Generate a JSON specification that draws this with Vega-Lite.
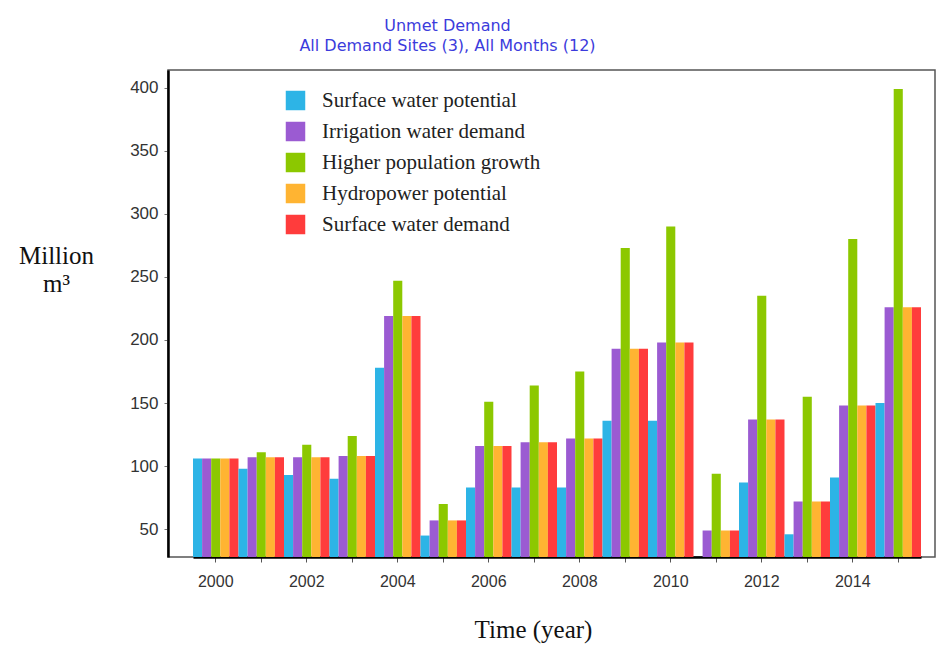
{
  "$schema": "https://vega.github.io/schema/vega-lite/v6.json",
  "autosize": {"type": "none"},
  "padding": {"left": 168, "top": 70, "right": 10, "bottom": 89},
  "width": 767,
  "height": 487,
  "background": "white",
  "title": {
    "text": "Unmet Demand",
    "subtitle": "All Demand Sites (3),  All Months (12)",
    "anchor": "middle",
    "dx": -104,
    "offset": 16,
    "font": "DejaVu Sans",
    "fontSize": 16,
    "fontWeight": "normal",
    "color": "#3b3bdc",
    "subtitleFont": "DejaVu Sans",
    "subtitleFontSize": 16,
    "subtitleColor": "#3b3bdc",
    "subtitlePadding": 4
  },
  "data": {
    "values": [
      {"year": 2000, "series": "Surface water potential", "value": 106},
      {"year": 2000, "series": "Irrigation water demand", "value": 106},
      {"year": 2000, "series": "Higher population growth", "value": 106},
      {"year": 2000, "series": "Hydropower potential", "value": 106},
      {"year": 2000, "series": "Surface water demand", "value": 106},
      {"year": 2001, "series": "Surface water potential", "value": 98},
      {"year": 2001, "series": "Irrigation water demand", "value": 107},
      {"year": 2001, "series": "Higher population growth", "value": 111},
      {"year": 2001, "series": "Hydropower potential", "value": 107},
      {"year": 2001, "series": "Surface water demand", "value": 107},
      {"year": 2002, "series": "Surface water potential", "value": 93},
      {"year": 2002, "series": "Irrigation water demand", "value": 107},
      {"year": 2002, "series": "Higher population growth", "value": 117},
      {"year": 2002, "series": "Hydropower potential", "value": 107},
      {"year": 2002, "series": "Surface water demand", "value": 107},
      {"year": 2003, "series": "Surface water potential", "value": 90},
      {"year": 2003, "series": "Irrigation water demand", "value": 108},
      {"year": 2003, "series": "Higher population growth", "value": 124},
      {"year": 2003, "series": "Hydropower potential", "value": 108},
      {"year": 2003, "series": "Surface water demand", "value": 108},
      {"year": 2004, "series": "Surface water potential", "value": 178},
      {"year": 2004, "series": "Irrigation water demand", "value": 219},
      {"year": 2004, "series": "Higher population growth", "value": 247},
      {"year": 2004, "series": "Hydropower potential", "value": 219},
      {"year": 2004, "series": "Surface water demand", "value": 219},
      {"year": 2005, "series": "Surface water potential", "value": 45},
      {"year": 2005, "series": "Irrigation water demand", "value": 57},
      {"year": 2005, "series": "Higher population growth", "value": 70},
      {"year": 2005, "series": "Hydropower potential", "value": 57},
      {"year": 2005, "series": "Surface water demand", "value": 57},
      {"year": 2006, "series": "Surface water potential", "value": 83},
      {"year": 2006, "series": "Irrigation water demand", "value": 116},
      {"year": 2006, "series": "Higher population growth", "value": 151},
      {"year": 2006, "series": "Hydropower potential", "value": 116},
      {"year": 2006, "series": "Surface water demand", "value": 116},
      {"year": 2007, "series": "Surface water potential", "value": 83},
      {"year": 2007, "series": "Irrigation water demand", "value": 119},
      {"year": 2007, "series": "Higher population growth", "value": 164},
      {"year": 2007, "series": "Hydropower potential", "value": 119},
      {"year": 2007, "series": "Surface water demand", "value": 119},
      {"year": 2008, "series": "Surface water potential", "value": 83},
      {"year": 2008, "series": "Irrigation water demand", "value": 122},
      {"year": 2008, "series": "Higher population growth", "value": 175},
      {"year": 2008, "series": "Hydropower potential", "value": 122},
      {"year": 2008, "series": "Surface water demand", "value": 122},
      {"year": 2009, "series": "Surface water potential", "value": 136},
      {"year": 2009, "series": "Irrigation water demand", "value": 193},
      {"year": 2009, "series": "Higher population growth", "value": 273},
      {"year": 2009, "series": "Hydropower potential", "value": 193},
      {"year": 2009, "series": "Surface water demand", "value": 193},
      {"year": 2010, "series": "Surface water potential", "value": 136},
      {"year": 2010, "series": "Irrigation water demand", "value": 198},
      {"year": 2010, "series": "Higher population growth", "value": 290},
      {"year": 2010, "series": "Hydropower potential", "value": 198},
      {"year": 2010, "series": "Surface water demand", "value": 198},
      {"year": 2011, "series": "Surface water potential", "value": 28},
      {"year": 2011, "series": "Irrigation water demand", "value": 49},
      {"year": 2011, "series": "Higher population growth", "value": 94},
      {"year": 2011, "series": "Hydropower potential", "value": 49},
      {"year": 2011, "series": "Surface water demand", "value": 49},
      {"year": 2012, "series": "Surface water potential", "value": 87},
      {"year": 2012, "series": "Irrigation water demand", "value": 137},
      {"year": 2012, "series": "Higher population growth", "value": 235},
      {"year": 2012, "series": "Hydropower potential", "value": 137},
      {"year": 2012, "series": "Surface water demand", "value": 137},
      {"year": 2013, "series": "Surface water potential", "value": 46},
      {"year": 2013, "series": "Irrigation water demand", "value": 72},
      {"year": 2013, "series": "Higher population growth", "value": 155},
      {"year": 2013, "series": "Hydropower potential", "value": 72},
      {"year": 2013, "series": "Surface water demand", "value": 72},
      {"year": 2014, "series": "Surface water potential", "value": 91},
      {"year": 2014, "series": "Irrigation water demand", "value": 148},
      {"year": 2014, "series": "Higher population growth", "value": 280},
      {"year": 2014, "series": "Hydropower potential", "value": 148},
      {"year": 2014, "series": "Surface water demand", "value": 148},
      {"year": 2015, "series": "Surface water potential", "value": 150},
      {"year": 2015, "series": "Irrigation water demand", "value": 226},
      {"year": 2015, "series": "Higher population growth", "value": 399},
      {"year": 2015, "series": "Hydropower potential", "value": 226},
      {"year": 2015, "series": "Surface water demand", "value": 226}
    ]
  },
  "mark": {"type": "bar", "clip": true},
  "encoding": {
    "x": {
      "field": "year",
      "type": "ordinal",
      "scale": {"range": [25, 753], "paddingInner": 0, "paddingOuter": 0},
      "axis": {
        "title": "Time (year)",
        "titleFont": "Liberation Serif",
        "titleFontSize": 25,
        "titleFontWeight": "normal",
        "titleColor": "#111",
        "titleX": 365,
        "titleY": 80,
        "titleAlign": "center",
        "titleBaseline": "alphabetic",
        "labelAngle": 0,
        "labelExpr": "datum.value % 2 == 0 ? datum.label : ''",
        "labelFont": "Liberation Sans",
        "labelFontSize": 16,
        "labelColor": "#333",
        "labelPadding": 11,
        "tickSize": 5,
        "tickColor": "#555",
        "domainColor": "#000",
        "domainWidth": 2.5
      }
    },
    "xOffset": {
      "field": "series",
      "type": "nominal",
      "sort": ["Surface water potential", "Irrigation water demand", "Higher population growth", "Hydropower potential", "Surface water demand"],
      "scale": {"paddingInner": 0, "paddingOuter": 0}
    },
    "y": {
      "field": "value",
      "type": "quantitative",
      "scale": {"domain": [28, 414], "nice": false, "zero": false},
      "axis": {
        "values": [50, 100, 150, 200, 250, 300, 350, 400],
        "grid": false,
        "title": ["Million", "m³"],
        "titleAngle": 0,
        "titleFont": "Liberation Serif",
        "titleFontSize": 25,
        "titleFontWeight": "normal",
        "titleColor": "#111",
        "titleX": -112,
        "titleY": 193,
        "titleAlign": "center",
        "titleBaseline": "alphabetic",
        "titleLineHeight": 28,
        "labelFont": "Liberation Sans",
        "labelFontSize": 17,
        "labelColor": "#333",
        "labelPadding": 6,
        "tickSize": 4,
        "tickColor": "#777",
        "domainColor": "#000",
        "domainWidth": 2.5
      }
    },
    "color": {
      "field": "series",
      "type": "nominal",
      "scale": {
        "domain": ["Surface water potential", "Irrigation water demand", "Higher population growth", "Hydropower potential", "Surface water demand"],
        "range": ["#2db4e6", "#9b5bd2", "#8cc800", "#ffb432", "#ff3c3c"]
      },
      "legend": {
        "orient": "none",
        "legendX": 117,
        "legendY": 20,
        "title": null,
        "symbolType": "square",
        "symbolSize": 380,
        "symbolStrokeWidth": 0,
        "symbolOpacity": 1,
        "labelFont": "Liberation Serif",
        "labelFontSize": 21,
        "labelColor": "#222",
        "labelOffset": 16,
        "rowPadding": 9,
        "labelLimit": 400
      }
    }
  },
  "config": {
    "view": {"stroke": "#555", "strokeWidth": 1.5},
    "legend": {"padding": 0}
  }
}
